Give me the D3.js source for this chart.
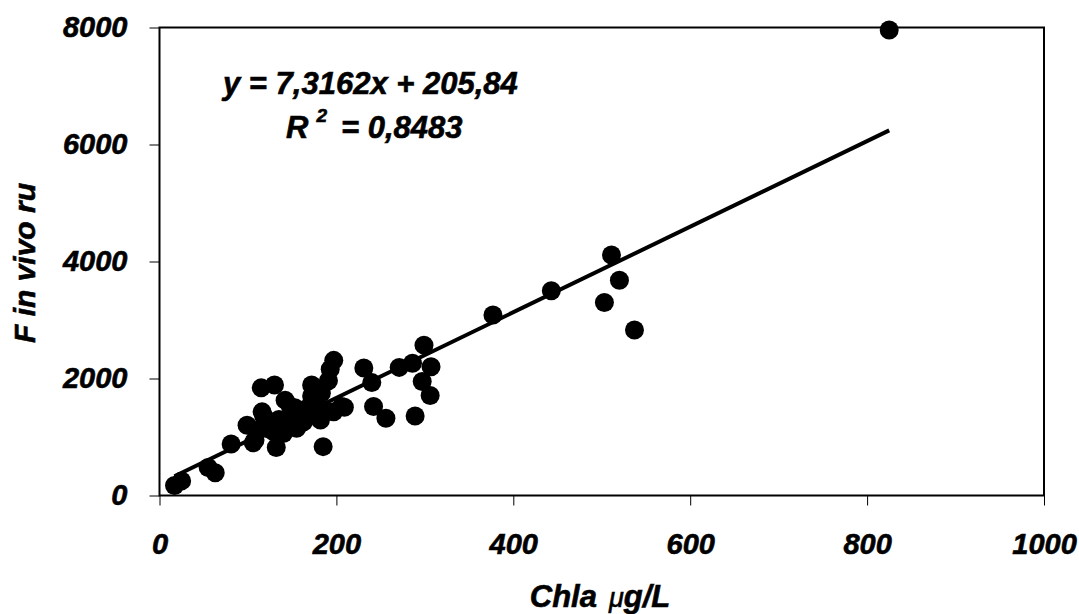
<!DOCTYPE html>
<html>
<head>
<meta charset="utf-8">
<script src="https://cdn.jsdelivr.net/npm/d3@7"></script>
<style>
  html, body { margin: 0; padding: 0; background: #fff; }
  svg { display: block; }
  text { font-family: "Liberation Sans", Arial, sans-serif; font-weight: bold; font-style: italic; fill: #000; }
</style>
</head>
<body>
<svg id="chart" width="1079" height="614"></svg>
<script>
'use strict';

// ── data ───────────────────────────────────────────────
const chla = [17, 25, 55, 63, 81, 99, 106, 108, 110, 116, 115, 118, 125, 130, 132, 140, 142, 144, 148, 153,
  159, 160, 163, 172, 172, 175, 182, 185, 188, 191, 193, 197, 197, 206, 209, 231, 240, 242, 256, 271,
  286, 289, 297, 299, 306, 307, 377, 443, 503, 511, 520, 537, 825,
  120, 128, 135, 150, 155, 165, 168, 178, 183];
const fluo = [170, 250, 480, 390, 880, 1200, 900, 950, 1110, 1430, 1840, 1350, 1230, 1890, 820, 1060, 1630, 1200, 1520, 1500,
  1430, 1240, 1260, 1890, 1700, 1560, 1290, 835, 1450, 1960, 2160, 2310, 1430, 1520, 1510, 2180, 1930, 1520, 1320, 2190,
  2260, 1360, 1950, 2570, 1710, 2200, 3085, 3500, 3300, 4110, 3680, 2830, 7957,
  1150, 1100, 1300, 1350, 1150, 1400, 1500, 1600, 1750];
const xTicks = [0, 200, 400, 600, 800, 1000];
const yTicks = [0, 2000, 4000, 6000, 8000];
const slope = 7.3162, intercept = 205.84;

// ── scales ─────────────────────────────────────────────
const L = 159.5, R = 1044, T = 27.5, B = 495.5;
const svg = d3.select('#chart');
const x = d3.scaleLinear().domain([0, 1000]).range([L, R]);
const y = d3.scaleLinear().domain([0, 8000]).range([B, T]);

// axes
const xAxis = svg.append('g')
  .attr('transform', `translate(0,${B})`)
  .call(d3.axisBottom(x).tickValues(xTicks).tickSize(10).tickPadding(28).tickFormat(d3.format('d')));
const yAxis = svg.append('g')
  .attr('transform', `translate(${L},0)`)
  .call(d3.axisLeft(y).tickValues(yTicks).tickSize(10).tickPadding(22).tickFormat(d3.format('d')));

[xAxis, yAxis].forEach(a => {
  a.select('.domain').remove();
  a.selectAll('.tick line').attr('stroke', '#000').attr('stroke-width', 1);
  a.selectAll('.tick text')
    .attr('font-size', 29)
    .attr('font-family', '"Liberation Sans", Arial, sans-serif')
    .attr('fill', '#000')
    .attr('stroke', '#000').attr('stroke-width', 0.6);
});

// plot frame
svg.append('rect')
  .attr('x', L).attr('y', T)
  .attr('width', R - L).attr('height', B - T)
  .attr('fill', 'none').attr('stroke', '#000').attr('stroke-width', 2);

// trend line
const xMin = d3.min(chla), xMax = d3.max(chla);
svg.append('line')
  .attr('x1', x(xMin)).attr('y1', y(slope * xMin + intercept))
  .attr('x2', x(xMax)).attr('y2', y(slope * xMax + intercept))
  .attr('stroke', '#000').attr('stroke-width', 4);

// points
svg.append('g').selectAll('circle')
  .data(chla.map((c, i) => [c, fluo[i]]))
  .join('circle')
  .attr('cx', d => x(d[0]))
  .attr('cy', d => y(d[1]))
  .attr('r', 9.5)
  .attr('fill', '#000');

// equation
svg.append('text')
  .attr('x', 223).attr('y', 94)
  .attr('font-size', 31)
  .attr('stroke', '#000').attr('stroke-width', 0.6)
  .text('y = 7,3162x + 205,84');

const r2 = svg.append('text')
  .attr('x', 286).attr('y', 138)
  .attr('font-size', 31)
  .attr('stroke', '#000').attr('stroke-width', 0.6);
r2.append('tspan').text('R');
r2.append('tspan').attr('font-size', 19).attr('dx', 8).attr('dy', -16).text('2');
r2.append('tspan').attr('dy', 16).attr('dx', 14).text('= 0,8483');

// axis titles
const xt = svg.append('text')
  .attr('x', 600).attr('y', 607)
  .attr('text-anchor', 'middle')
  .attr('font-size', 31)
  .attr('stroke', '#000').attr('stroke-width', 0.6);
xt.append('tspan').text('Chla');
xt.append('tspan').attr('dx', 12).attr('font-weight', 'normal').attr('font-size', 27).text('μ');
xt.append('tspan').text('g/L');

svg.append('text')
  .attr('transform', 'translate(35,263) rotate(-90)')
  .attr('text-anchor', 'middle')
  .attr('font-size', 30)
  .attr('stroke', '#000').attr('stroke-width', 0.6)
  .text('F in vivo ru');
</script>
</body>
</html>
